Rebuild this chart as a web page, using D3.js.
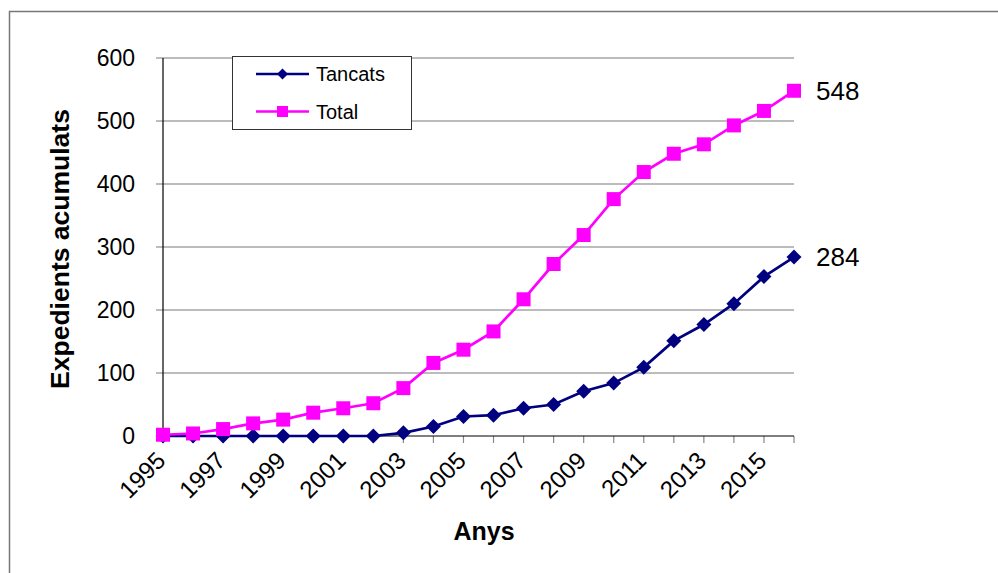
<!DOCTYPE html>
<html>
<head>
<meta charset="utf-8">
<script src="https://cdn.jsdelivr.net/npm/d3@7/dist/d3.min.js"></script>
<style>
  html, body { margin: 0; padding: 0; background: #fff; }
  svg { display: block; font-family: "Liberation Sans", Arial, sans-serif; }
</style>
</head>
<body>
<svg id="chart" width="998" height="573"></svg>
<script>
// Accumulated case files per year
const years = d3.range(1995, 2017);
const tancats = [0, 0, 0, 0, 0, 0, 0, 0, 5, 15, 31, 33, 44, 50, 71, 84, 109, 151, 177, 210, 253, 284];
const total = [2, 4, 11, 20, 26, 37, 44, 52, 76, 116, 137, 166, 217, 273, 319, 376, 419, 448, 463, 493, 516, 548];
const yTicks = [0, 100, 200, 300, 400, 500, 600];
const xLabels = years.filter(y => (y - 1995) % 2 === 0);

const seriesList = [
  { name: "Tancats", values: tancats, color: "#000080", shape: "diamond" },
  { name: "Total", values: total, color: "#FF00FF", shape: "square" }
];

const svg = d3.select("#chart");

// Outer chart frame (runs past the right and bottom edges)
svg.append("rect")
  .attr("x", 9.5).attr("y", 11.5)
  .attr("width", 1100).attr("height", 700)
  .attr("fill", "#fff").attr("stroke", "#777").attr("stroke-width", 1.5);

const plotLeft = 163, plotRight = 794, plotTop = 58, plotBottom = 436;

const x = d3.scalePoint().domain(years).range([plotLeft, plotRight]);
const y = d3.scaleLinear().domain([0, 600]).range([plotBottom, plotTop]);

// Horizontal gridlines with tick stubs left of the axis
svg.append("g")
  .selectAll("line")
  .data(yTicks.filter(v => v > 0))
  .join("line")
  .attr("x1", plotLeft - 7).attr("x2", plotRight)
  .attr("y1", d => y(d)).attr("y2", d => y(d))
  .attr("stroke", "#a6a6a6").attr("stroke-width", 1.5);

svg.append("line")
  .attr("x1", plotLeft - 7).attr("x2", plotLeft)
  .attr("y1", y(0)).attr("y2", y(0))
  .attr("stroke", "#a6a6a6").attr("stroke-width", 1.5);

// Y tick labels
svg.append("g")
  .selectAll("text")
  .data(yTicks)
  .join("text")
  .attr("x", 135).attr("y", d => y(d))
  .attr("dy", "0.35em")
  .attr("text-anchor", "end")
  .attr("font-size", 23)
  .attr("fill", "#000")
  .text(d => d);

// X tick marks
svg.append("g")
  .selectAll("line")
  .data(years)
  .join("line")
  .attr("x1", d => x(d)).attr("x2", d => x(d))
  .attr("y1", plotBottom).attr("y2", plotBottom + 7)
  .attr("stroke", "#888").attr("stroke-width", 1.2);

// Axis lines
svg.append("line")
  .attr("x1", plotLeft).attr("x2", plotLeft).attr("y1", plotTop).attr("y2", plotBottom)
  .attr("stroke", "#000").attr("stroke-width", 1.2);
svg.append("line")
  .attr("x1", plotLeft).attr("x2", plotRight).attr("y1", plotBottom).attr("y2", plotBottom)
  .attr("stroke", "#000").attr("stroke-width", 1.2);

// Rotated year labels
svg.append("g")
  .selectAll("text")
  .data(xLabels)
  .join("text")
  .attr("transform", d => `translate(${x(d) - 2},${plotBottom + 20}) rotate(-45)`)
  .attr("text-anchor", "end")
  .attr("dy", "0.35em")
  .attr("font-size", 24)
  .attr("fill", "#000")
  .text(d => d);

// Axis titles
svg.append("text")
  .attr("x", 484).attr("y", 540)
  .attr("text-anchor", "middle")
  .attr("font-size", 25).attr("font-weight", "bold")
  .text("Anys");

svg.append("text")
  .attr("transform", `translate(69,249) rotate(-90)`)
  .attr("text-anchor", "middle")
  .attr("font-size", 26.5).attr("font-weight", "bold")
  .text("Expedients acumulats");

const line = d3.line().x((d, i) => x(years[i])).y(d => y(d));

function drawMarker(sel, shape, color, size) {
  if (shape === "square") {
    sel.append("rect")
      .attr("x", -size / 2).attr("y", -size / 2)
      .attr("width", size).attr("height", size)
      .attr("fill", color);
  } else {
    const h = size / 2 + 1;
    sel.append("path")
      .attr("d", `M0,${-h}L${h},0L0,${h}L${-h},0Z`)
      .attr("fill", color);
  }
}

// Series lines and markers (Tancats first, Total on top)
seriesList.forEach(s => {
  svg.append("path")
    .datum(s.values)
    .attr("d", line)
    .attr("fill", "none")
    .attr("stroke", s.color)
    .attr("stroke-width", 2.7);
  const g = svg.append("g");
  s.values.forEach((v, i) => {
    const m = g.append("g").attr("transform", `translate(${x(years[i])},${y(v)})`);
    drawMarker(m, s.shape, s.color, s.shape === "square" ? 14 : 13);
  });
  // End value label
  const last = s.values[s.values.length - 1];
  svg.append("text")
    .attr("x", 816).attr("y", y(last))
    .attr("dy", "0.36em")
    .attr("font-size", 26)
    .attr("fill", "#000")
    .text(last);
});

// Legend
const lg = svg.append("g");
lg.append("rect")
  .attr("x", 232.5).attr("y", 56.5)
  .attr("width", 179).attr("height", 73)
  .attr("fill", "#fff").attr("stroke", "#333").attr("stroke-width", 1);
seriesList.forEach((s, i) => {
  const ly = 74 + i * 37.5;
  lg.append("line")
    .attr("x1", 256).attr("x2", 309).attr("y1", ly).attr("y2", ly)
    .attr("stroke", s.color).attr("stroke-width", 2.5);
  const m = lg.append("g").attr("transform", `translate(282.5,${ly})`);
  drawMarker(m, s.shape, s.color, s.shape === "square" ? 11 : 9);
  lg.append("text")
    .attr("x", 316).attr("y", ly)
    .attr("dy", "0.36em")
    .attr("font-size", 20)
    .attr("fill", "#000")
    .text(s.name);
});
</script>
</body>
</html>
